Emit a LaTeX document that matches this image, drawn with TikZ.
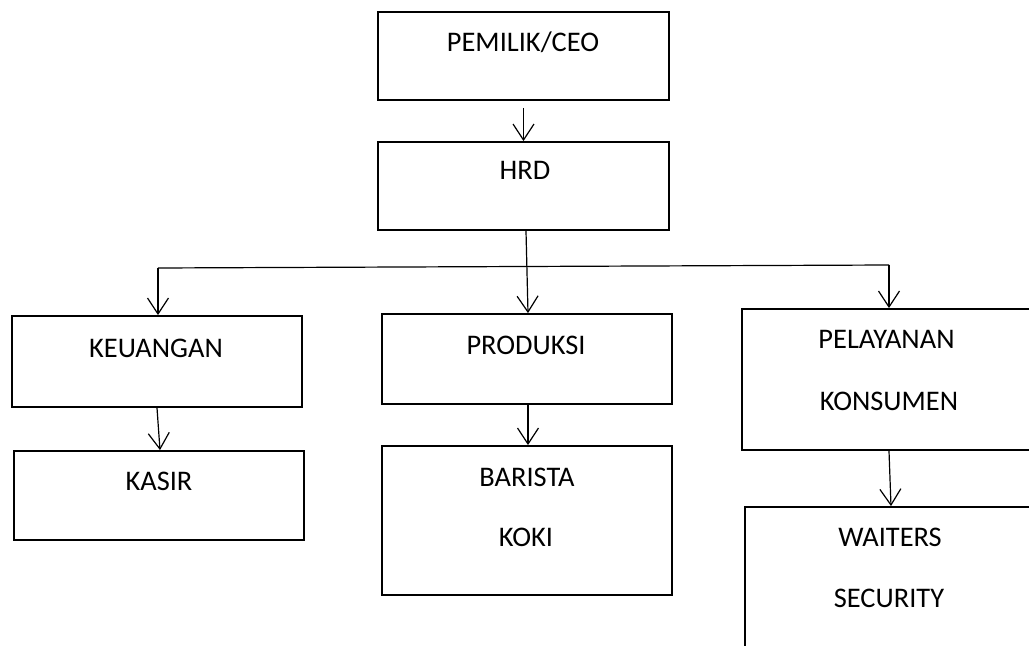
\documentclass[tikz,border=0pt]{standalone}
\usepackage{fontspec}
\setmainfont{Carlito}
\usetikzlibrary{arrows.meta}
\begin{document}
\begin{tikzpicture}[x=1bp,y=-1bp,
  box/.style={draw, line width=1.8bp, inner sep=0pt, minimum width=290bp},
  lbl/.style={anchor=base, inner sep=0pt, font=\fontsize{28.5}{34}\selectfont},
  conn/.style={line width=1.2bp, -{Straight Barb[length=16bp,width=21bp]}},
  bus/.style={line width=1.2bp}]
\useasboundingbox (0,0) rectangle (1029,646);
\clip (0,0) rectangle (1029,646);
% boxes
\node[box, minimum width=291bp, minimum height=88bp] (ceo) at (523.5,56) {};
\node[box, minimum width=291bp, minimum height=88bp] (hrd) at (523.5,186) {};
\node[box, minimum height=91bp] (keu) at (157,361.5) {};
\node[box, minimum height=89bp] (kasir) at (159,495.5) {};
\node[box, minimum height=90bp] (prod) at (527,359) {};
\node[box, minimum height=149bp] (bar) at (527,520.5) {};
\node[box, minimum width=300bp, minimum height=141bp] (pel) at (892,379.5) {};
\node[box, minimum width=300bp, minimum height=153bp] (wait) at (895,583.5) {};
% labels
\node[lbl] (tceo) at (523,52) {PEMILIK/CEO};
\node[lbl] (thrd) at (525,180) {HRD};
\node[lbl] (tkeu) at (156,357) {KEUANGAN};
\node[lbl] (tkasir) at (159,490) {KASIR};
\node[lbl] (tprod) at (526,354) {PRODUKSI};
\node[lbl] (tbar) at (527,486) {BARISTA};
\node[lbl] (tkoki) at (526,546) {KOKI};
\node[lbl] (tpel) at (886.5,348) {PELAYANAN};
\node[lbl] (tkon) at (889,410) {KONSUMEN};
\node[lbl] (twait) at (890,546) {WAITERS};
\node[lbl] (tsec) at (889,607) {SECURITY};
% connectors
\draw[conn] ([yshift=-7bp]ceo.south) -- (hrd.north);
\draw[conn] ([xshift=2.5bp]hrd.south) -- ([xshift=1bp]prod.north);
\coordinate (busL) at (158,268);
\coordinate (busR) at (889,265);
\draw[bus] (busL) -- (busR);
\draw[conn] (busL) -- (busL |- keu.north);
\draw[conn] (busR) -- (busR |- pel.north);
\draw[conn] (keu.south) -- ([xshift=1bp]kasir.north);
\draw[conn] ([xshift=1bp]prod.south) -- ([xshift=1bp]bar.north);
\draw[conn] ([xshift=-3bp]pel.south) -- ([xshift=-4bp]wait.north);
\end{tikzpicture}
\end{document}
